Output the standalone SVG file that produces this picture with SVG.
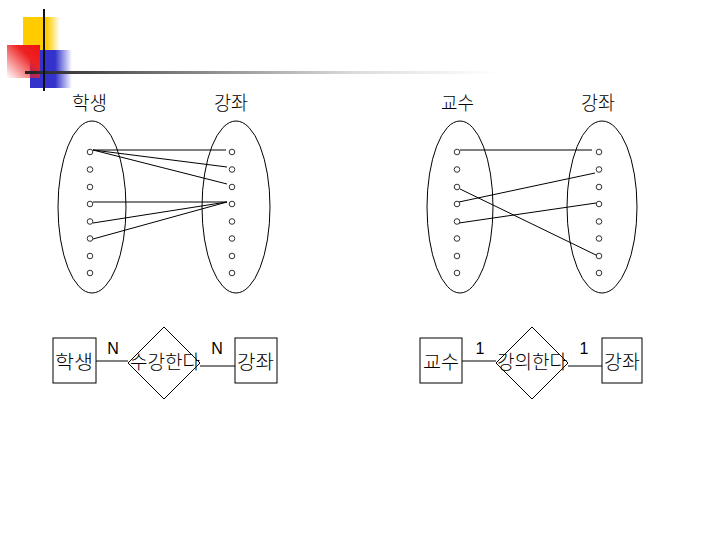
<svg xmlns="http://www.w3.org/2000/svg" width="720" height="540" viewBox="0 0 720 540">
<defs>
<linearGradient id="gY" x1="0" y1="0" x2="1" y2="0"><stop offset="0" stop-color="#FFCC00"/><stop offset="0.65" stop-color="#FFCC00"/><stop offset="1" stop-color="#FFCC00" stop-opacity="0"/></linearGradient>
<linearGradient id="gB" x1="0" y1="0" x2="1" y2="0"><stop offset="0" stop-color="#3333CC"/><stop offset="0.6" stop-color="#3333CC"/><stop offset="1" stop-color="#3333CC" stop-opacity="0"/></linearGradient>
<linearGradient id="gR" x1="1" y1="0" x2="0" y2="1"><stop offset="0" stop-color="#EE1111"/><stop offset="0.35" stop-color="#EE2222"/><stop offset="1" stop-color="#EE2222" stop-opacity="0"/></linearGradient>
<linearGradient id="gL" x1="0" y1="0" x2="1" y2="0"><stop offset="0" stop-color="#222"/><stop offset="0.3" stop-color="#777"/><stop offset="0.7" stop-color="#ddd"/><stop offset="1" stop-color="#fff"/></linearGradient>
<style>
text{font-family:"Noto Sans CJK KR","Liberation Sans",sans-serif;font-size:19px;fill:#000;font-weight:300}
.lat{font-family:"Liberation Sans",sans-serif;font-size:16px;font-weight:400}
.ell{fill:none;stroke:#000;stroke-width:1}
.dot{fill:#fff;stroke:#000;stroke-width:0.8}
.ln{stroke:#000;stroke-width:1;fill:none}
.box{fill:#fff;stroke:#000;stroke-width:1}
</style>
</defs>
<g id="header">
<rect x="23" y="17" width="37" height="33" fill="url(#gY)"/>
<rect x="30" y="50" width="42" height="38" fill="url(#gB)"/>
<rect x="7" y="45" width="33" height="33" fill="url(#gR)"/>
<rect x="25" y="71" width="475" height="3" fill="url(#gL)"/>
<rect x="43" y="9" width="2" height="82" fill="#111"/>
</g>
<g id="left-set">
<text x="72" y="110" textLength="35" lengthAdjust="spacingAndGlyphs">학생</text>
<text x="214" y="110" textLength="34" lengthAdjust="spacingAndGlyphs">강좌</text>
<ellipse class="ell" cx="92" cy="207" rx="34" ry="86"/>
<ellipse class="ell" cx="236" cy="207" rx="34" ry="86"/>
</g>
<g id="left-connectors">
<line class="ln" x1="93" y1="150" x2="226" y2="150"/>
<line class="ln" x1="93" y1="150" x2="227" y2="167"/>
<line class="ln" x1="93" y1="150" x2="227" y2="184"/>
<line class="ln" x1="93" y1="202" x2="227" y2="202"/>
<line class="ln" x1="93" y1="223" x2="227" y2="202"/>
<line class="ln" x1="93" y1="239" x2="227" y2="202"/>
</g>
<g id="left-dots">
<g class="dot">
<circle cx="90" cy="152" r="2.8"/><circle cx="90" cy="169.5" r="2.8"/><circle cx="90" cy="187" r="2.8"/><circle cx="90" cy="204" r="2.8"/><circle cx="90" cy="221.5" r="2.8"/><circle cx="90" cy="238.5" r="2.8"/><circle cx="90" cy="256" r="2.8"/><circle cx="90" cy="273" r="2.8"/>
<circle cx="232" cy="152" r="2.8"/><circle cx="232" cy="169.5" r="2.8"/><circle cx="232" cy="187" r="2.8"/><circle cx="232" cy="204" r="2.8"/><circle cx="232" cy="221.5" r="2.8"/><circle cx="232" cy="238.5" r="2.8"/><circle cx="232" cy="256" r="2.8"/><circle cx="232" cy="273" r="2.8"/>
</g>
</g>
<g id="right-set">
<text x="441" y="110" textLength="33" lengthAdjust="spacingAndGlyphs">교수</text>
<text x="581" y="110" textLength="34" lengthAdjust="spacingAndGlyphs">강좌</text>
<ellipse class="ell" cx="460" cy="207" rx="33" ry="86"/>
<ellipse class="ell" cx="602" cy="207" rx="35" ry="86"/>
</g>
<g id="right-connectors">
<line class="ln" x1="460" y1="150" x2="592" y2="150"/>
<line class="ln" x1="459" y1="202" x2="595" y2="173"/>
<line class="ln" x1="459" y1="223" x2="596" y2="203"/>
<line class="ln" x1="460" y1="189" x2="598" y2="256"/>
</g>
<g id="right-dots">
<g class="dot">
<circle cx="457" cy="152" r="2.8"/><circle cx="457" cy="169.5" r="2.8"/><circle cx="457" cy="187" r="2.8"/><circle cx="457" cy="204" r="2.8"/><circle cx="457" cy="221.5" r="2.8"/><circle cx="457" cy="238.5" r="2.8"/><circle cx="457" cy="256" r="2.8"/><circle cx="457" cy="273" r="2.8"/>
<circle cx="599" cy="152" r="2.8"/><circle cx="599" cy="169.5" r="2.8"/><circle cx="599" cy="187" r="2.8"/><circle cx="599" cy="204" r="2.8"/><circle cx="599" cy="221.5" r="2.8"/><circle cx="599" cy="238.5" r="2.8"/><circle cx="599" cy="256" r="2.8"/><circle cx="599" cy="273" r="2.8"/>
</g>
</g>
<g id="er-connectors">
<line class="ln" x1="96" y1="361" x2="128" y2="361"/>
<line class="ln" x1="200" y1="366" x2="235" y2="366"/>
<line class="ln" x1="462" y1="361" x2="496" y2="361"/>
<line class="ln" x1="568" y1="366" x2="602" y2="366"/>
<text class="lat" x="113" y="354" text-anchor="middle">N</text>
<text class="lat" x="217" y="354" text-anchor="middle">N</text>
<text class="lat" x="480" y="354" text-anchor="middle">1</text>
<text class="lat" x="584" y="354" text-anchor="middle">1</text>
</g>
<g id="er-student">
<rect class="box" x="53" y="338" width="43" height="45"/>
<text x="55" y="369" textLength="38" lengthAdjust="spacingAndGlyphs">학생</text>
</g>
<g id="er-enroll">
<polygon class="box" points="164,327 200,363 164,399 128,363"/>
<text x="130" y="369" textLength="70" lengthAdjust="spacingAndGlyphs">수강한다</text>
</g>
<g id="er-course1">
<rect class="box" x="235" y="338" width="42" height="45"/>
<text x="237" y="369" textLength="37" lengthAdjust="spacingAndGlyphs">강좌</text>
</g>
<g id="er-prof">
<rect class="box" x="420" y="338" width="42" height="45"/>
<text x="423" y="369" textLength="36" lengthAdjust="spacingAndGlyphs">교수</text>
</g>
<g id="er-teach">
<polygon class="box" points="532,327 568,363 532,399 496,363"/>
<text x="497" y="369" textLength="70" lengthAdjust="spacingAndGlyphs">강의한다</text>
</g>
<g id="er-course2">
<rect class="box" x="602" y="338" width="40" height="45"/>
<text x="604" y="369" textLength="36" lengthAdjust="spacingAndGlyphs">강좌</text>
</g>
</svg>
